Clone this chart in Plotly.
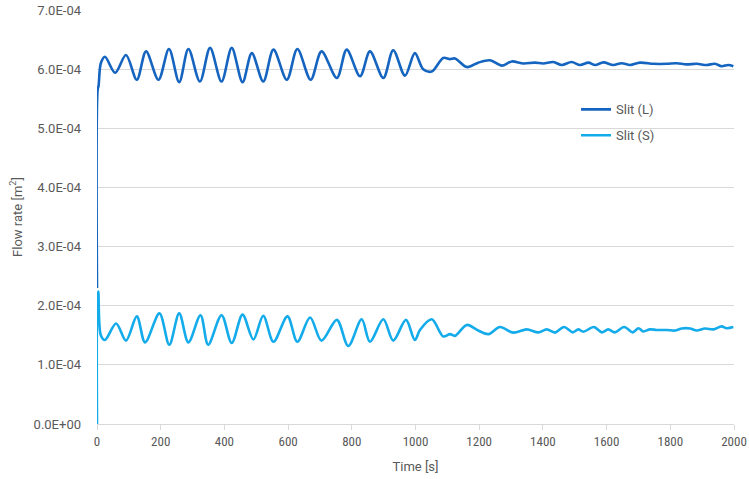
import plotly.graph_objects as go

# ---- data ----
time_L = [0, 2, 5, 12, 25, 57, 91, 125, 154, 193, 226, 258, 287, 323, 355, 391, 423, 457, 486,
          522, 554, 596, 629, 671, 705, 753, 784, 826, 857, 899, 930, 967, 998, 1024, 1051, 1087,
          1108, 1124, 1161, 1197, 1234, 1271, 1302, 1339, 1375, 1401, 1433, 1459, 1490, 1517,
          1543, 1564, 1590, 1621, 1647, 1674, 1705, 1747, 1789, 1820, 1851, 1883, 1914, 1940,
          1961, 1982, 1998]
flow_L = [2.30, 5.65, 5.72, 6.10, 6.21, 5.94, 6.24, 5.82, 6.30, 5.82, 6.34, 5.78, 6.34, 5.79, 6.36,
          5.79, 6.36, 5.78, 6.27, 5.79, 6.33, 5.82, 6.34, 5.82, 6.30, 5.85, 6.33, 5.88, 6.30, 5.85,
          6.32, 5.89, 6.27, 6.00, 5.96, 6.19, 6.17, 6.18, 6.035, 6.11, 6.15, 6.06, 6.13, 6.095,
          6.11, 6.095, 6.12, 6.07, 6.12, 6.07, 6.11, 6.07, 6.115, 6.07, 6.10, 6.07, 6.11, 6.09,
          6.09, 6.10, 6.08, 6.09, 6.07, 6.09, 6.05, 6.07, 6.05]

time_S = [0, 1, 4, 12, 25, 60, 91, 125, 151, 196, 227, 258, 287, 325, 349, 391, 423, 457, 491,
          522, 554, 598, 629, 669, 705, 753, 789, 831, 857, 899, 930, 970, 998, 1014, 1051, 1087,
          1108, 1124, 1161, 1197, 1229, 1265, 1307, 1349, 1386, 1412, 1438, 1466, 1494, 1511,
          1527, 1560, 1585, 1605, 1626, 1655, 1682, 1700, 1715, 1736, 1757, 1789, 1815, 1836,
          1862, 1883, 1909, 1935, 1961, 1977, 1998]
flow_S = [0.00, 2.10, 2.24, 1.50, 1.42, 1.70, 1.41, 1.82, 1.38, 1.87, 1.34, 1.87, 1.38, 1.84, 1.34,
          1.84, 1.37, 1.85, 1.43, 1.83, 1.39, 1.82, 1.39, 1.80, 1.41, 1.76, 1.32, 1.77, 1.39, 1.77,
          1.41, 1.76, 1.42, 1.59, 1.77, 1.48, 1.52, 1.49, 1.675, 1.58, 1.52, 1.64, 1.545, 1.60,
          1.55, 1.60, 1.545, 1.64, 1.55, 1.60, 1.56, 1.64, 1.55, 1.60, 1.55, 1.64, 1.55, 1.62,
          1.565, 1.60, 1.59, 1.59, 1.58, 1.615, 1.615, 1.58, 1.615, 1.60, 1.65, 1.62, 1.64]

scale = 1e-4
y_ticks = [0, 1e-4, 2e-4, 3e-4, 4e-4, 5e-4, 6e-4, 7e-4]
y_tick_labels = ["0.0E+00", "1.0E-04", "2.0E-04", "3.0E-04", "4.0E-04", "5.0E-04", "6.0E-04", "7.0E-04"]
x_ticks = [0, 200, 400, 600, 800, 1000, 1200, 1400, 1600, 1800, 2000]

names = ["Slit (L)", "Slit (S)"]
colors = ["#1565C0", "#14ABEB"]

fig = go.Figure()
fig.add_trace(go.Scatter(x=time_L, y=[v * scale for v in flow_L], mode="lines", name=names[0],
                         legendgroup="a",
                         line=dict(color=colors[0], width=2.6, shape="spline", smoothing=0.9)))
fig.add_trace(go.Scatter(x=time_S, y=[v * scale for v in flow_S], mode="lines", name=names[1],
                         legendgroup="b",
                         line=dict(color=colors[1], width=2.6, shape="spline", smoothing=0.9)))

font_main = "Roboto, Noto Sans, sans-serif"
fig.update_layout(
    width=749, height=479,
    margin=dict(l=97, r=15, t=10, b=55),
    paper_bgcolor="white", plot_bgcolor="white",
    showlegend=True,
    legend=dict(x=0.752, y=0.796, xanchor="left", yanchor="top",
                font=dict(family=font_main, size=13, color="#595959"),
                bgcolor="rgba(0,0,0,0)", tracegroupgap=6, itemwidth=30),
)
fig.update_xaxes(
    range=[0, 2000], tickvals=x_ticks, showgrid=False, zeroline=False, automargin=False,
    showline=True, linecolor="#d9d9d9", linewidth=1,
    ticks="outside", ticklen=5, tickcolor="#d9d9d9",
    tickfont=dict(family="Liberation Sans Narrow, Roboto Condensed, Roboto, sans-serif", size=13, color="#595959"),
    title=dict(text="Time [s]", font=dict(family=font_main, size=13, color="#595959"), standoff=14),
)
fig.update_yaxes(
    range=[0, 7e-4], tickvals=y_ticks, ticktext=y_tick_labels, automargin=False,
    showgrid=True, gridcolor="#d9d9d9", gridwidth=1, zeroline=False, showline=False,
    ticks="", ticklabelstandoff=15, tickfont=dict(family=font_main, size=13, color="#595959"),
    title=dict(text="Flow rate [m<sup>2</sup>]", font=dict(family=font_main, size=13, color="#595959"),
               standoff=8),
)

fig.write_html("out.html", config={"displayModeBar": False},
               post_script="document.body.style.margin='0';document.body.style.overflow='hidden';")
